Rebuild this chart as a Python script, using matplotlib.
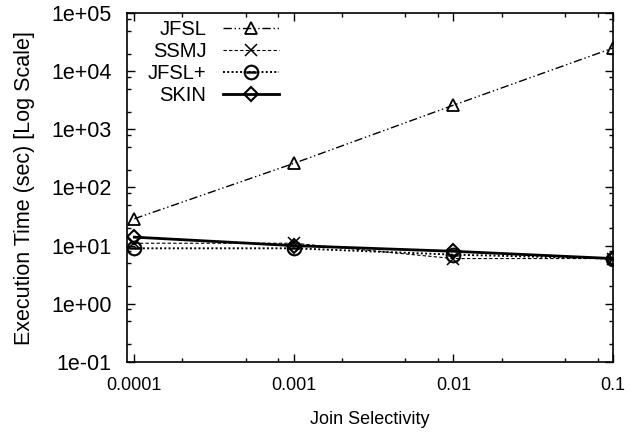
import matplotlib
matplotlib.use("Agg")
import matplotlib.pyplot as plt
from matplotlib.ticker import FixedLocator, FuncFormatter, LogLocator, NullFormatter

plt.rcParams['font.family'] = ['Liberation Sans', 'DejaVu Sans']

selectivity = [0.0001, 0.001, 0.01, 0.1]
jfsl = [29, 260, 2600, 25000]
ssmj = [11, 11, 6, 6]
jfsl_plus = [9, 9, 7, 6]
skin = [14, 10, 8, 6]

x_ticks = [0.0001, 0.001, 0.01, 0.1]
x_tick_labels = ["0.0001", "0.001", "0.01", "0.1"]
y_ticks = [1e-1, 1e0, 1e1, 1e2, 1e3, 1e4, 1e5]
y_tick_labels = ["1e-01", "1e+00", "1e+01", "1e+02", "1e+03", "1e+04", "1e+05"]

fig = plt.figure(figsize=(6.32, 4.34), dpi=100)
ax = fig.add_axes([0.201, 0.166, 0.769, 0.804])

ax.plot(selectivity, jfsl, color='black', lw=1.0, linestyle=(0, (6, 2, 1, 2, 1, 2)),
        marker='^', markersize=9, markerfacecolor='none', markeredgewidth=1.3, label='JFSL')
ax.plot(selectivity, ssmj, color='black', lw=0.8, linestyle=(0, (3, 2)),
        marker='x', markersize=9, markeredgewidth=1.1, label='SSMJ')
ax.plot(selectivity, jfsl_plus, color='black', lw=1.4, linestyle=(0, (1, 1.2)),
        marker='$\\ominus$', markersize=11, markeredgewidth=0.3, label='JFSL+')
ax.plot(selectivity, skin, color='black', lw=2.0, linestyle='-',
        marker='D', markersize=7, markerfacecolor='none', markeredgewidth=1.5, label='SKIN')

ax.set_xscale('log')
ax.set_yscale('log')
ax.set_xlim(0.00009, 0.1)
ax.set_ylim(0.1, 1e5)

ax.xaxis.set_major_locator(FixedLocator(x_ticks))
ax.xaxis.set_major_formatter(FuncFormatter(lambda v, p: x_tick_labels[x_ticks.index(min(x_ticks, key=lambda t: abs(t / v - 1)))]))
ax.xaxis.set_minor_locator(LogLocator(base=10, subs=[2, 5, 8]))
ax.xaxis.set_minor_formatter(NullFormatter())
ax.yaxis.set_major_locator(FixedLocator(y_ticks))
ax.yaxis.set_major_formatter(FuncFormatter(lambda v, p: y_tick_labels[y_ticks.index(min(y_ticks, key=lambda t: abs(t / v - 1)))]))
ax.yaxis.set_minor_locator(LogLocator(base=10, subs=[2, 5, 8]))
ax.yaxis.set_minor_formatter(NullFormatter())

ax.tick_params(which='both', direction='in', top=True, right=True, width=1)
ax.tick_params(which='major', length=6)
ax.tick_params(which='minor', length=3)
ax.tick_params(axis='x', which='major', labelsize=13, pad=11)
ax.tick_params(axis='y', which='major', labelsize=15.5, pad=11)
for s in ax.spines.values():
    s.set_linewidth(1.2)

ax.set_xlabel('Join Selectivity', fontsize=13, labelpad=12)
ax.set_ylabel('Execution Time (sec) [Log Scale]', fontsize=15.5)
ax.yaxis.set_label_coords(35 / 632, 1 - 188 / 434, transform=fig.transFigure)

ax.legend(loc='upper right', bbox_to_anchor=(279 / 632, 1 - 20 / 434), bbox_transform=fig.transFigure,
          markerfirst=False, frameon=False, fontsize=14.5, handlelength=2.8, handletextpad=0.8,
          labelspacing=0.15, borderpad=0, borderaxespad=0)

fig.savefig('out.png', dpi=100)
